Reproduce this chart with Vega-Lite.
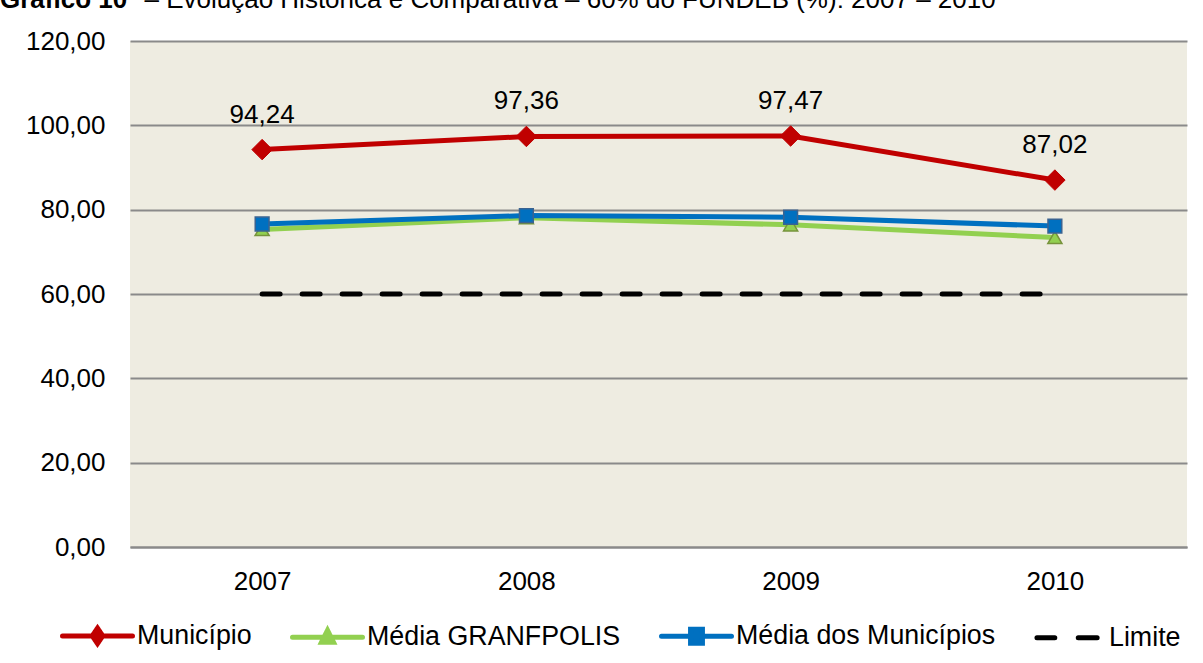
{
  "$schema": "https://vega.github.io/schema/vega-lite/v6.json",
  "width": 1057,
  "height": 506,
  "autosize": {"type": "none"},
  "padding": {"left": 130, "top": 41, "right": 16, "bottom": 116},
  "background": "#ffffff",
  "title": {
    "text": "Gráfico 10",
    "subtitle": "\u200b\u00a0\u00a0\u00a0\u00a0\u00a0\u00a0\u00a0\u00a0\u00a0\u00a0\u00a0\u00a0\u00a0\u00a0\u00a0\u00a0\u00a0\u00a0\u00a0\u00a0– Evolução Histórica e Comparativa – 60% do FUNDEB (%): 2007 – 2010",
    "anchor": "start",
    "frame": "group",
    "orient": "top",
    "dx": -130,
    "dy": 14,
    "offset": 8,
    "fontSize": 26,
    "fontWeight": "bold",
    "color": "#000000",
    "subtitleFontSize": 26,
    "subtitleColor": "#000000",
    "subtitleFontWeight": "normal",
    "subtitlePadding": -26,
    "baseline": "alphabetic"
  },
  "config": {
    "font": "Liberation Sans",
    "locale": {"number": {"decimal": ",", "thousands": ".", "grouping": [3], "currency": ["R$", ""]}},
    "view": {"fill": "#EEECE1", "stroke": null},
    "axis": {"labelFont": "Liberation Sans", "labelColor": "#000000", "labelFontSize": 26, "ticks": false, "title": null}
  },
  "data": {
    "values": [
      {"ano": "2007", "serie": "Município", "valor": 94.24},
      {"ano": "2008", "serie": "Município", "valor": 97.36},
      {"ano": "2009", "serie": "Município", "valor": 97.47},
      {"ano": "2010", "serie": "Município", "valor": 87.02},
      {"ano": "2007", "serie": "Média GRANFPOLIS", "valor": 75.3},
      {"ano": "2008", "serie": "Média GRANFPOLIS", "valor": 78.1},
      {"ano": "2009", "serie": "Média GRANFPOLIS", "valor": 76.4},
      {"ano": "2010", "serie": "Média GRANFPOLIS", "valor": 73.4},
      {"ano": "2007", "serie": "Média dos Municípios", "valor": 76.6},
      {"ano": "2008", "serie": "Média dos Municípios", "valor": 78.6},
      {"ano": "2009", "serie": "Média dos Municípios", "valor": 78.2},
      {"ano": "2010", "serie": "Média dos Municípios", "valor": 76.1},
      {"ano": "2007", "serie": "Limite", "valor": 60},
      {"ano": "2008", "serie": "Limite", "valor": 60},
      {"ano": "2009", "serie": "Limite", "valor": 60},
      {"ano": "2010", "serie": "Limite", "valor": 60}
    ]
  },
  "encoding": {
    "x": {
      "field": "ano", "type": "ordinal",
      "scale": {"type": "point", "padding": 0.5},
      "axis": {"labelAngle": 0, "labelPadding": 21, "domain": true, "domainColor": "#8a8a8a", "domainWidth": 2, "grid": false}
    },
    "y": {
      "field": "valor", "type": "quantitative",
      "scale": {"domain": [0, 120], "nice": false, "zero": true},
      "axis": {"values": [0, 20, 40, 60, 80, 100, 120], "format": ".2f", "labelPadding": 25, "domain": false, "grid": true, "gridColor": "#8a8a8a", "gridWidth": 2}
    }
  },
  "layer": [
    {
      "transform": [{"filter": "datum.serie === 'Limite'"}],
      "mark": {"type": "line", "strokeWidth": 5, "strokeDash": [18, 22], "strokeCap": "round"},
      "encoding": {
        "color": {
          "field": "serie", "type": "nominal",
          "scale": {"domain": ["Município", "Média GRANFPOLIS", "Média dos Municípios", "Limite"], "range": ["#C00000", "#92D050", "#0070C0", "#000000"]},
          "legend": {
            "title": null,
            "orient": "none",
            "legendX": -70,
            "legendY": 557,
            "direction": "horizontal",
            "columns": 4,
            "padding": 0,
            "columnPadding": 30,
            "symbolSize": 4900,
            "symbolStrokeWidth": 5,
            "labelFontSize": 26.8,
            "labelFont": "Liberation Sans",
            "labelColor": "#000000",
            "labelOffset": 2,
            "labelLimit": 400,
            "encode": {
              "symbols": {
                "update": {
                  "shape": {"signal": "datum.value === 'Município' ? 'M-1,0H1M0,-0.22L0.15,0L0,0.22L-0.15,0Z' : datum.value === 'Média GRANFPOLIS' ? 'M-1,0H1M0,-0.2L0.17,0.14L-0.17,0.14Z' : datum.value === 'Média dos Municípios' ? 'M-1,0H1M-0.17,-0.2H0.17V0.2H-0.17Z' : 'M-0.93,0H-0.42M0.25,0H0.79'"},
                  "fill": {"signal": "datum.value === 'Município' ? '#C00000' : datum.value === 'Média GRANFPOLIS' ? '#92D050' : datum.value === 'Média dos Municípios' ? '#0070C0' : 'transparent'"},
                  "stroke": {"signal": "datum.value === 'Município' ? '#C00000' : datum.value === 'Média GRANFPOLIS' ? '#92D050' : datum.value === 'Média dos Municípios' ? '#0070C0' : '#000000'"},
                  "strokeDash": {"value": [1, 0]},
                  "strokeCap": {"value": "round"},
                  "opacity": {"value": 1}
                }
              }
            }
          }
        }
      }
    },
    {
      "transform": [{"filter": "datum.serie === 'Média GRANFPOLIS'"}],
      "mark": {"type": "line", "strokeWidth": 5},
      "encoding": {"color": {"field": "serie", "type": "nominal"}}
    },
    {
      "transform": [{"filter": "datum.serie === 'Média GRANFPOLIS'"}],
      "mark": {"type": "point", "shape": "triangle-up", "size": 200, "filled": true, "fill": "#92D050", "stroke": "#77933C", "strokeWidth": 1.5, "opacity": 1},
      "encoding": {}
    },
    {
      "transform": [{"filter": "datum.serie === 'Média dos Municípios'"}],
      "mark": {"type": "line", "strokeWidth": 5},
      "encoding": {"color": {"field": "serie", "type": "nominal"}}
    },
    {
      "transform": [{"filter": "datum.serie === 'Média dos Municípios'"}],
      "mark": {"type": "point", "shape": "square", "size": 190, "filled": true, "fill": "#0070C0", "stroke": "#3A6391", "strokeWidth": 1.5, "opacity": 1},
      "encoding": {}
    },
    {
      "transform": [{"filter": "datum.serie === 'Município'"}],
      "mark": {"type": "line", "strokeWidth": 5},
      "encoding": {"color": {"field": "serie", "type": "nominal"}}
    },
    {
      "transform": [{"filter": "datum.serie === 'Município'"}],
      "mark": {"type": "point", "shape": "diamond", "size": 420, "filled": true, "fill": "#C00000", "stroke": "#C00000", "strokeWidth": 1, "opacity": 1},
      "encoding": {}
    },
    {
      "transform": [{"filter": "datum.serie === 'Município'"}],
      "mark": {"type": "text", "fontSize": 26, "font": "Liberation Sans", "color": "#000000", "dy": -35, "baseline": "middle"},
      "encoding": {"text": {"field": "valor", "type": "quantitative", "format": ".2f"}}
    }
  ]
}
